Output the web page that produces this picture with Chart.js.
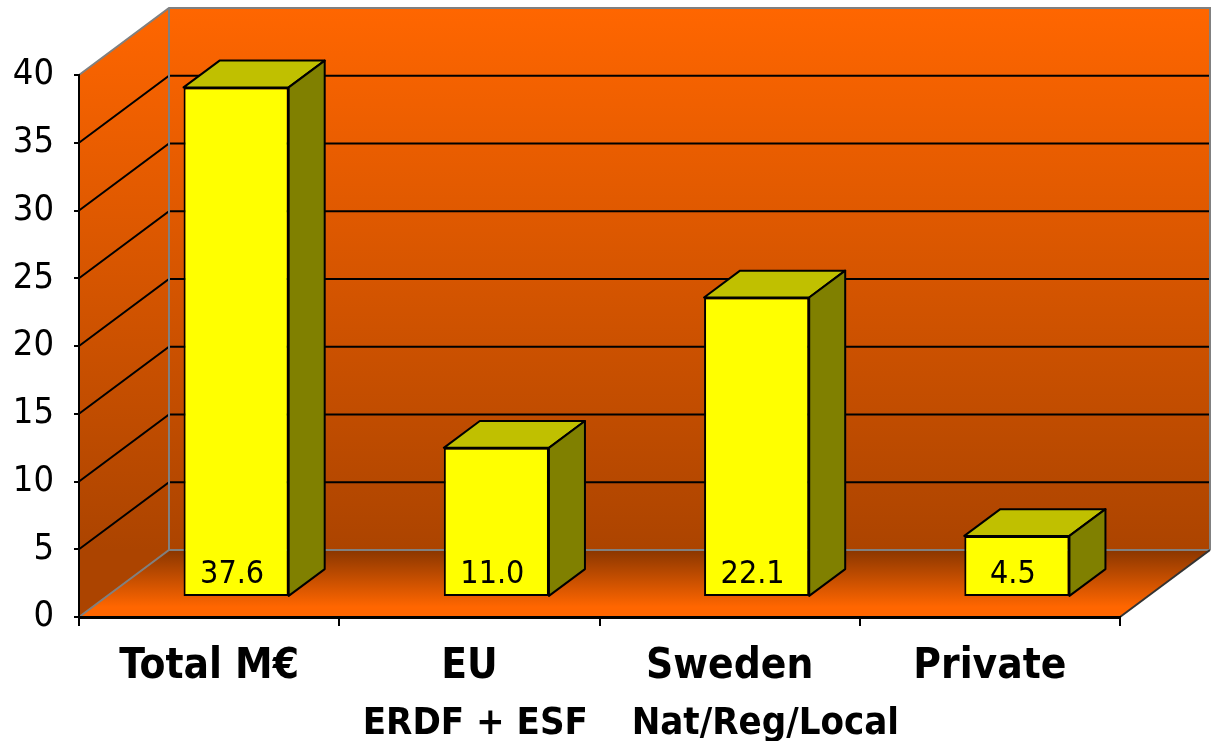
<!DOCTYPE html>
<html><head><meta charset="utf-8">
<script src="https://cdn.jsdelivr.net/npm/chart.js@4/dist/chart.umd.min.js"></script>
<style>html,body{margin:0;padding:0;background:#fff;}#wrap{width:1214px;height:741px;}</style>
</head><body><div id="wrap"><canvas id="c" width="1214" height="741"></canvas></div>
<script>
const categories = ['Total M€', 'EU', 'Sweden', 'Private'];
const subLabels = ['', '\u00A0ERDF + ESF', '\u00A0\u00A0\u00A0\u00A0\u00A0\u00A0Nat/Reg/Local', ''];
const values = [37.6, 11.0, 22.1, 4.5];
const valueLabels = ['37.6', '11.0', '22.1', '4.5'];
const yMin = 0, yMax = 40, yStep = 5;

const FONT = "'DejaVu Sans Condensed', 'DejaVu Sans', sans-serif";
const DEPTH = {x: 90, y: 67};
const BAR_FRONT = 0.3;
const BAR_DEPTH = 0.4;

const box3d = {
  id: 'box3d',
  beforeDraw(chart) {
    const ctx = chart.ctx, a = chart.chartArea, ys = chart.scales.y;
    const L = a.left, R = a.right, T = ys.getPixelForValue(yMax), B = ys.getPixelForValue(yMin);
    const dx = DEPTH.x, dy = DEPTH.y;
    ctx.save();
    let g = ctx.createLinearGradient(0, T - dy, 0, B - dy);
    g.addColorStop(0, '#FF6600'); g.addColorStop(1, '#AC4400');
    ctx.fillStyle = g;
    ctx.fillRect(L + dx, T - dy, R - L, B - T);
    g = ctx.createLinearGradient(0, T - dy, 0, B - dy);
    g.addColorStop(0, '#FF6600'); g.addColorStop(1, '#AC4400');
    ctx.fillStyle = g;
    ctx.beginPath();
    ctx.moveTo(L, T); ctx.lineTo(L + dx, T - dy); ctx.lineTo(L + dx, B - dy); ctx.lineTo(L, B);
    ctx.closePath(); ctx.fill();
    g = ctx.createLinearGradient(0, B - dy, 0, B);
    g.addColorStop(0, '#8A3600'); g.addColorStop(0.85, '#FF6600'); g.addColorStop(1, '#FF6600');
    ctx.fillStyle = g;
    ctx.beginPath();
    ctx.moveTo(L, B); ctx.lineTo(L + dx, B - dy); ctx.lineTo(R + dx, B - dy); ctx.lineTo(R, B);
    ctx.closePath(); ctx.fill();
    ctx.strokeStyle = '#000'; ctx.lineWidth = 2;
    for (let v = yMin + yStep; v < yMax; v += yStep) {
      const p = ys.getPixelForValue(v);
      ctx.beginPath();
      ctx.moveTo(L, p); ctx.lineTo(L + dx, p - dy); ctx.lineTo(R + dx, p - dy);
      ctx.stroke();
    }
    ctx.strokeStyle = '#808080'; ctx.lineWidth = 2;
    ctx.beginPath();
    ctx.moveTo(L, T); ctx.lineTo(L + dx, T - dy); ctx.lineTo(R + dx, T - dy); ctx.lineTo(R + dx, B - dy);
    ctx.moveTo(L + dx, T - dy); ctx.lineTo(L + dx, B - dy);
    ctx.moveTo(L, B); ctx.lineTo(L + dx, B - dy); ctx.lineTo(R + dx, B - dy);
    ctx.stroke();
    ctx.strokeStyle = '#333'; ctx.lineWidth = 2;
    ctx.beginPath(); ctx.moveTo(R, B); ctx.lineTo(R + dx, B - dy); ctx.stroke();
    ctx.restore();
  },
  beforeDatasetsDraw(chart) {
    chart.ctx.save();
    chart.ctx.translate(DEPTH.x * BAR_FRONT, -DEPTH.y * BAR_FRONT);
  },
  afterDatasetsDraw(chart) {
    const ctx = chart.ctx;
    ctx.restore();
    const fx = DEPTH.x * BAR_FRONT, fy = -DEPTH.y * BAR_FRONT;
    const bx = DEPTH.x * BAR_DEPTH, by = -DEPTH.y * BAR_DEPTH;
    const meta = chart.getDatasetMeta(0);
    ctx.save();
    ctx.lineWidth = 2; ctx.strokeStyle = '#000'; ctx.lineJoin = 'round';
    meta.data.forEach((bar, i) => {
      const p = bar.getProps(['x', 'y', 'base', 'width'], true);
      const l = p.x - p.width / 2 + fx, r = p.x + p.width / 2 + fx, t = p.y + fy, b = p.base + fy;
      ctx.fillStyle = '#C0C000';
      ctx.beginPath();
      ctx.moveTo(l, t); ctx.lineTo(l + bx, t + by); ctx.lineTo(r + bx, t + by); ctx.lineTo(r, t);
      ctx.closePath(); ctx.fill(); ctx.stroke();
      ctx.fillStyle = '#808000';
      ctx.beginPath();
      ctx.moveTo(r, t); ctx.lineTo(r + bx, t + by); ctx.lineTo(r + bx, b + by); ctx.lineTo(r, b);
      ctx.closePath(); ctx.fill(); ctx.stroke();
      ctx.fillStyle = '#000';
      ctx.font = '32px ' + FONT;
      ctx.textAlign = 'center'; ctx.textBaseline = 'alphabetic';
      ctx.fillText(valueLabels[i], (l + r) / 2 - 4, b - 13);
    });
    ctx.restore();
  }
};

new Chart(document.getElementById('c'), {
  type: 'bar',
  data: {
    labels: categories,
    datasets: [{
      data: values,
      xAxisID: 'x',
      backgroundColor: '#FFFF00',
      borderColor: '#000',
      borderWidth: 2,
      borderSkipped: false,
      barPercentage: 0.404,
      categoryPercentage: 1.0
    }]
  },
  options: {
    responsive: false,
    animation: false,
    layout: {padding: {top: 75, right: 94, left: 0, bottom: 0}},
    plugins: {legend: {display: false}, tooltip: {enabled: false}},
    scales: {
      x: {
        weight: 0,
        ticks: {color: '#000', font: {family: FONT, size: 42, weight: 'bold', lineHeight: 1.2}, padding: 16, maxRotation: 0, autoSkip: false},
        grid: {drawOnChartArea: false, drawTicks: true, tickLength: 9, color: '#000', lineWidth: 2, offset: true},
        border: {display: true, color: '#000', width: 3},
        afterFit(s) { s.height = 62; }
      },
      x2: {
        type: 'category',
        position: 'bottom',
        weight: 1,
        labels: subLabels,
        offset: true,
        ticks: {color: '#000', font: {family: FONT, size: 38, weight: 'bold', lineHeight: 1.2}, padding: 14, maxRotation: 0, autoSkip: false},
        grid: {display: false},
        border: {display: false},
        afterFit(s) { s.height = 62; }
      },
      y: {
        min: yMin, max: yMax,
        ticks: {stepSize: yStep, color: '#000', font: {family: FONT, size: 36}, padding: 20},
        grid: {drawOnChartArea: false, drawTicks: true, tickLength: 5, color: '#000', lineWidth: 2},
        border: {display: true, color: '#000', width: 2},
        afterFit(s) { s.width = 79; }
      }
    }
  },
  plugins: [box3d]
});
</script></body></html>
